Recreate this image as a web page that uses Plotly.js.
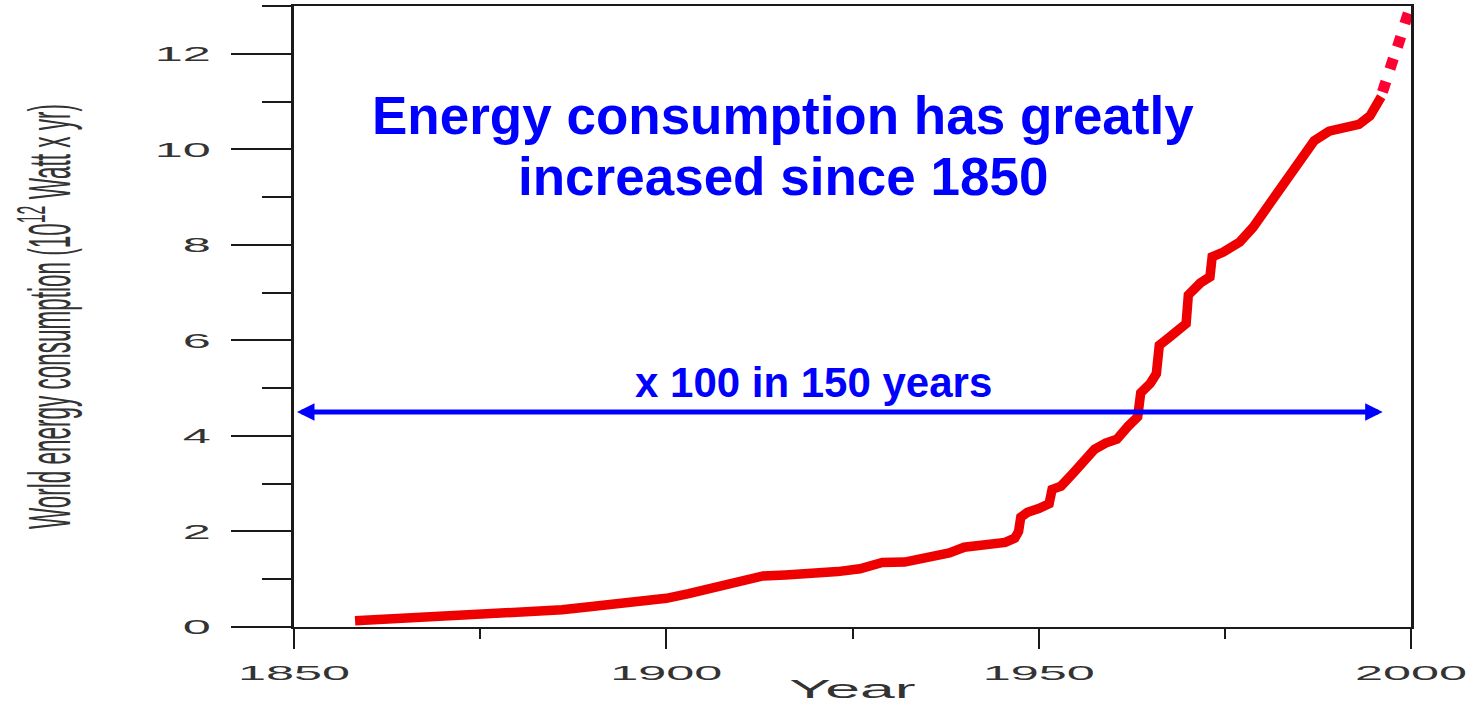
<!DOCTYPE html>
<html>
<head>
<meta charset="utf-8">
<script src="https://cdn.plot.ly/plotly-3.0.1.min.js"></script>
<style>
  html, body { margin: 0; padding: 0; background: #ffffff; }
  #chart { width: 1478px; height: 703px; }
</style>
</head>
<body>
<div id="chart"></div>
<script>
// ---- Data ----
const years = [1858.2, 1862, 1866, 1870, 1874, 1878, 1882, 1886, 1890, 1894, 1897, 1900, 1903, 1906, 1909, 1911, 1913, 1916, 1920, 1923, 1926, 1928, 1929, 1932, 1934, 1936, 1938, 1940, 1943, 1945.5, 1946.8, 1947.3, 1947.6, 1948.5, 1950, 1951.4, 1951.8, 1953, 1954.5, 1956, 1957.5, 1959, 1960.5, 1962, 1963.3, 1963.7, 1965, 1965.8, 1966.2, 1967.6, 1969, 1969.8, 1970.1, 1971.7, 1973, 1973.3, 1974.8, 1977, 1978.8, 1980.7, 1983, 1985, 1987, 1989, 1991, 1993, 1994.5, 1996];
const energy = [0.13, 0.16, 0.19, 0.21, 0.23, 0.27, 0.32, 0.36, 0.43, 0.48, 0.52, 0.6, 0.7, 0.8, 0.92, 1.0, 1.07, 1.09, 1.11, 1.16, 1.22, 1.3, 1.35, 1.36, 1.42, 1.48, 1.55, 1.67, 1.75, 1.77, 1.86, 2.0, 2.3, 2.4, 2.48, 2.58, 2.88, 2.95, 3.2, 3.45, 3.72, 3.85, 3.93, 4.2, 4.4, 4.9, 5.1, 5.3, 5.9, 6.07, 6.28, 6.35, 6.95, 7.2, 7.33, 7.75, 7.85, 8.06, 8.37, 8.8, 9.25, 9.75, 10.18, 10.38, 10.45, 10.52, 10.7, 11.1];

// projected continuation, drawn as dots
const projYears = [1996.4, 1997.4, 1998.4, 1999.4, 2000.4];
const projEnergy = [11.31, 11.79, 12.25, 12.74, 13.23];

// arrow span
const arrowYears = [1850.2, 1996.2];
const arrowLevel = 4.5;

const xTickVals = [1850, 1900, 1950, 2000];
const xTickText = ['1850', '1900', '1950', '2000'];
const yTickVals = [0, 2, 4, 6, 8, 10, 12];
const yTickText = ['0', '2', '4', '6', '8', '10', '12'];

const headline1 = 'Energy consumption has greatly';
const headline2 = 'increased since 1850';
const arrowLabel = 'x 100 in 150 years';
const xTitle = 'Year';
const yTitle = 'World energy consumption (10<sup>12</sup> Watt x yr)';

// ---- Plot ----
const axisColor = '#1a1a1a';
const labelFont = {family: 'Liberation Sans, Arial, sans-serif', size: 21, color: '#333333'};
const blueFont = {family: 'Liberation Sans, Arial, sans-serif', color: '#0000ff'};

const traces = [
  {
    x: years, y: energy, type: 'scatter', mode: 'lines',
    line: {color: '#ee0000', width: 9.5},
    hoverinfo: 'skip', showlegend: false
  },
  {
    x: projYears, y: projEnergy, type: 'scatter', mode: 'markers',
    marker: {symbol: 'square', size: 11, angle: 18, color: '#ff0033'},
    cliponaxis: false, hoverinfo: 'skip', showlegend: false
  }
];

const layout = {
  width: 1478, height: 703,
  margin: {l: 294, r: 67, t: 6, b: 76, pad: 0},
  paper_bgcolor: '#ffffff', plot_bgcolor: '#ffffff',
  showlegend: false,
  xaxis: {
    range: [1850, 2000], showgrid: false, zeroline: false,
    showline: true, mirror: true, linecolor: axisColor, linewidth: 2,
    ticks: 'outside', ticklen: 20, tickwidth: 2, tickcolor: axisColor,
    tickmode: 'array', tickvals: xTickVals, ticktext: xTickText,
    minor: {tickmode: 'linear', tick0: 1875, dtick: 50, ticks: 'outside', ticklen: 10, tickwidth: 2, tickcolor: axisColor, showgrid: false},
    tickfont: labelFont, ticklabelstandoff: 6,
    title: {text: xTitle, font: {family: 'Liberation Sans, Arial, sans-serif', size: 25, color: '#333333'}, standoff: 2},
    fixedrange: true
  },
  yaxis: {
    range: [0, 13], showgrid: false, zeroline: false,
    showline: true, mirror: true, linecolor: axisColor, linewidth: 3,
    ticks: 'outside', ticklen: 60, tickwidth: 2, tickcolor: axisColor,
    tickmode: 'array', tickvals: yTickVals, ticktext: yTickText,
    minor: {tickmode: 'linear', tick0: 1, dtick: 2, ticks: 'outside', ticklen: 29, tickwidth: 2, tickcolor: axisColor, showgrid: false},
    tickfont: labelFont, ticklabelstandoff: 16,
    title: {text: yTitle, font: {family: 'Liberation Sans, Arial, sans-serif', size: 22, color: '#333333'}, standoff: 100},
    fixedrange: true
  },
  annotations: [
    {x: 1915.6, y: 10.70, xref: 'x', yref: 'y', text: headline1, showarrow: false,
     xanchor: 'center', yanchor: 'middle', font: Object.assign({size: 53, weight: 'bold'}, blueFont)},
    {x: 1915.6, y: 9.44, xref: 'x', yref: 'y', text: headline2, showarrow: false,
     xanchor: 'center', yanchor: 'middle', font: Object.assign({size: 53, weight: 'bold'}, blueFont)},
    {x: 1919.7, y: 5.11, xref: 'x', yref: 'y', text: arrowLabel, showarrow: false,
     xanchor: 'center', yanchor: 'middle', font: Object.assign({size: 42, weight: 'bold'}, blueFont)},
    {x: arrowYears[1], y: arrowLevel, ax: arrowYears[0], ay: arrowLevel,
     xref: 'x', yref: 'y', axref: 'x', ayref: 'y', text: '', showarrow: true,
     arrowhead: 2, startarrowhead: 2, arrowside: 'end+start', arrowwidth: 5,
     arrowsize: 0.7, startarrowsize: 0.7, arrowcolor: '#0000ff'}
  ]
};

const gd = document.getElementById('chart');
Plotly.newPlot(gd, traces, layout, {staticPlot: true, displayModeBar: false}).then(function () {
  // The reference picture is horizontally stretched: widen horizontal axis texts
  function stretch(selector, k) {
    gd.querySelectorAll(selector).forEach(function (t) {
      const w = t.getComputedTextLength();
      if (w > 0) {
        t.setAttribute('textLength', (w * k).toFixed(1));
        t.setAttribute('lengthAdjust', 'spacingAndGlyphs');
      }
    });
  }
  stretch('.xtick text', 2.4);
  stretch('.ytick text', 2.4);
  stretch('.g-xtitle text', 2.5);

  // y title: fit its length along the axis, then thicken it across (rotated text)
  const svgRect = gd.querySelector('svg.main-svg').getBoundingClientRect();
  gd.querySelectorAll('.g-ytitle text').forEach(function (t) {
    t.setAttribute('textLength', '425');
    t.setAttribute('lengthAdjust', 'spacingAndGlyphs');
    const r = t.getBoundingClientRect();
    const cx = (r.left + r.right) / 2 - svgRect.left;
    const k = 2.7, targetCx = 45;
    const base = t.getAttribute('transform') || '';
    t.setAttribute('transform', 'translate(' + targetCx + ',0) scale(' + k + ',1) translate(' + (-cx) + ',0) ' + base);
  });
});
</script>
</body>
</html>
